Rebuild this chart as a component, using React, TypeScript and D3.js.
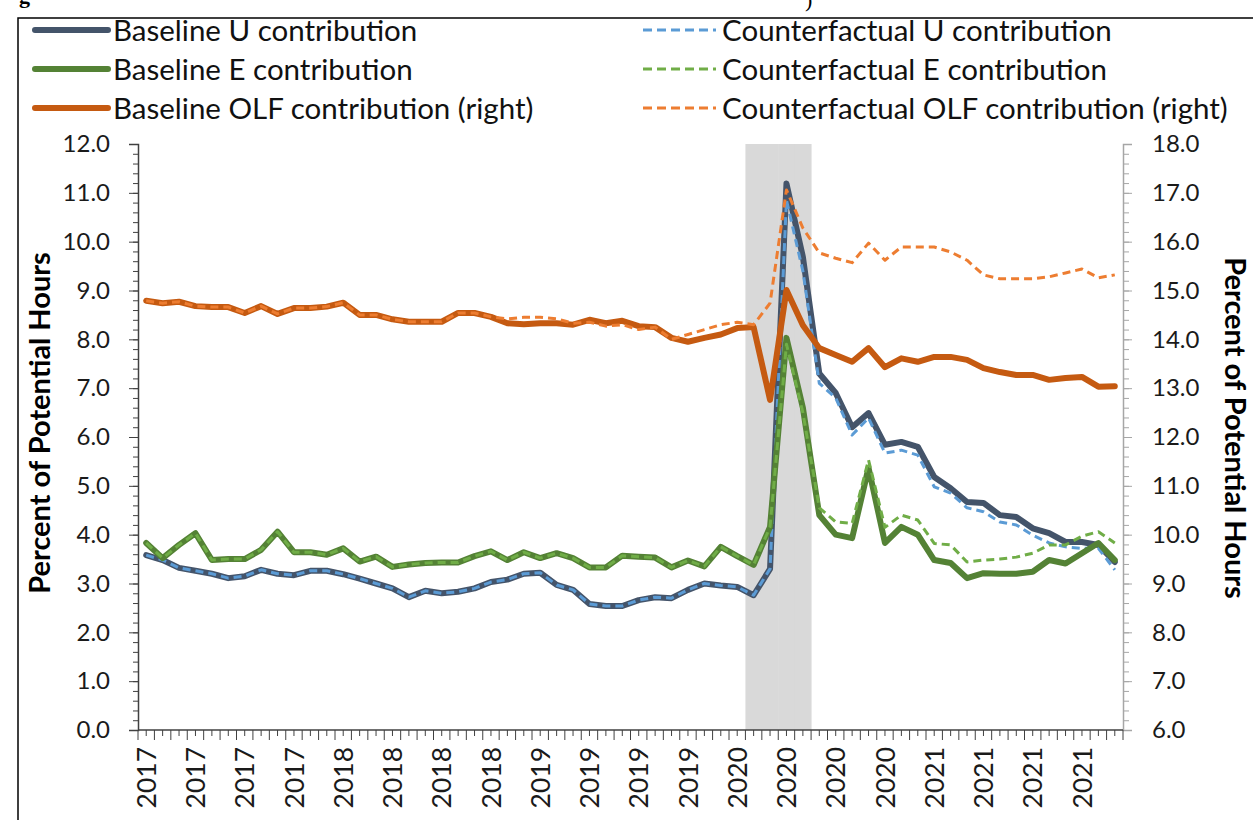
import { useEffect, useRef } from 'react';
import * as d3 from 'd3';

// monthly categories, Jan 2017 .. Dec 2021
const years = ["2017", "2018", "2019", "2020", "2021"];
const months = years.flatMap(y => ["01", "02", "03", "04", "05", "06", "07", "08", "09", "10", "11", "12"].map(m => `${y}-${m}`));

// 1 = shaded (recession) month
const recession = [
  0, 0, 0, 0, 0, 0, 0, 0, 0, 0, 0, 0,
  0, 0, 0, 0, 0, 0, 0, 0, 0, 0, 0, 0,
  0, 0, 0, 0, 0, 0, 0, 0, 0, 0, 0, 0,
  0, 1, 1, 1, 1, 0, 0, 0, 0, 0, 0, 0,
  0, 0, 0, 0, 0, 0, 0, 0, 0, 0, 0, 0,
];

const baselineU = [
  3.58, 3.48, 3.32, 3.26, 3.2, 3.11, 3.15, 3.28, 3.2, 3.17,
  3.26, 3.26, 3.19, 3.1, 3.0, 2.9, 2.72, 2.85, 2.8, 2.83,
  2.9, 3.03, 3.08, 3.2, 3.22, 2.97, 2.87, 2.58, 2.54, 2.54,
  2.66, 2.72, 2.7, 2.87, 3.0, 2.96, 2.93, 2.76, 3.3, 11.19,
  9.69, 7.3, 6.9, 6.2, 6.49, 5.84, 5.9, 5.8, 5.18, 4.95,
  4.67, 4.65, 4.4, 4.36, 4.13, 4.03, 3.85, 3.85, 3.79, 3.44,
];

const counterU = [
  3.58, 3.48, 3.32, 3.26, 3.2, 3.11, 3.15, 3.28, 3.2, 3.17,
  3.26, 3.26, 3.19, 3.1, 3.0, 2.9, 2.72, 2.85, 2.8, 2.83,
  2.9, 3.03, 3.08, 3.2, 3.22, 2.97, 2.87, 2.58, 2.54, 2.54,
  2.66, 2.72, 2.7, 2.87, 3.0, 2.96, 2.93, 2.76, 3.3, 10.85,
  9.4, 7.1, 6.8, 6.04, 6.39, 5.67, 5.73, 5.63, 4.98, 4.85,
  4.55, 4.47, 4.26, 4.2, 3.99, 3.83, 3.75, 3.72, 3.72, 3.28,
];

const baselineE = [
  3.83, 3.52, 3.79, 4.03, 3.48, 3.5, 3.5, 3.69, 4.06, 3.64,
  3.64, 3.59, 3.72, 3.45, 3.55, 3.34, 3.39, 3.42, 3.43, 3.43,
  3.56, 3.66, 3.48, 3.64, 3.52, 3.62, 3.52, 3.33, 3.33, 3.57,
  3.55, 3.53, 3.33, 3.47, 3.35, 3.75, 3.56, 3.38, 4.16, 8.03,
  6.6, 4.4, 4.0, 3.93, 5.37, 3.83, 4.16, 4.0, 3.48, 3.42,
  3.11, 3.21, 3.2, 3.2, 3.24, 3.48, 3.41, 3.62, 3.83, 3.48,
];

const counterE = [
  3.83, 3.52, 3.79, 4.03, 3.48, 3.5, 3.5, 3.69, 4.06, 3.64,
  3.64, 3.59, 3.72, 3.45, 3.55, 3.34, 3.39, 3.42, 3.43, 3.43,
  3.56, 3.66, 3.48, 3.64, 3.52, 3.62, 3.52, 3.33, 3.33, 3.57,
  3.55, 3.53, 3.33, 3.47, 3.35, 3.75, 3.56, 3.38, 4.16, 7.9,
  6.5, 4.55, 4.26, 4.23, 5.53, 4.15, 4.4, 4.3, 3.82, 3.79,
  3.44, 3.48, 3.5, 3.54, 3.62, 3.79, 3.79, 3.97, 4.06, 3.83,
];

// right axis
const baselineOLF = [
  14.79, 14.74, 14.77, 14.68, 14.66, 14.66, 14.54, 14.68, 14.52, 14.64,
  14.64, 14.67, 14.75, 14.5, 14.5, 14.41, 14.36, 14.36, 14.36, 14.54,
  14.54, 14.46, 14.33, 14.31, 14.33, 14.33, 14.3, 14.4, 14.33, 14.38,
  14.27, 14.25, 14.03, 13.95, 14.03, 14.1, 14.23, 14.25, 12.76, 15.01,
  14.29, 13.82, 13.68, 13.54, 13.82, 13.43, 13.61, 13.54, 13.64, 13.64,
  13.58, 13.41, 13.33, 13.27, 13.27, 13.17, 13.21, 13.23, 13.03, 13.04,
];

const counterOLF = [
  14.79, 14.74, 14.77, 14.68, 14.66, 14.66, 14.54, 14.68, 14.52, 14.64,
  14.64, 14.67, 14.75, 14.5, 14.5, 14.41, 14.36, 14.36, 14.36, 14.54,
  14.54, 14.46, 14.42, 14.45, 14.45, 14.42, 14.33, 14.35, 14.27, 14.3,
  14.2, 14.25, 14.0, 14.1, 14.2, 14.3, 14.35, 14.3, 14.74, 17.06,
  16.28, 15.77, 15.66, 15.57, 15.97, 15.62, 15.89, 15.89, 15.89, 15.79,
  15.62, 15.32, 15.24, 15.24, 15.24, 15.28, 15.36, 15.44, 15.26, 15.32,
];

const xTickLabels = [
  "2017", "2017", "2017", "2017", "2018", "2018", "2018", "2018", "2019", "2019",
  "2019", "2019", "2020", "2020", "2020", "2020", "2021", "2021", "2021", "2021",
];

interface Series {
  name: string;
  values: number[];
  color: string;
  width: number;
  dashed: boolean;
  right: boolean;
}

const series: Series[] = [
  { name: "Baseline U contribution", values: baselineU, color: "#44546A", width: 6, dashed: false, right: false },
  { name: "Counterfactual U contribution", values: counterU, color: "#5B9BD5", width: 3, dashed: true, right: false },
  { name: "Baseline E contribution", values: baselineE, color: "#548235", width: 6, dashed: false, right: false },
  { name: "Counterfactual E contribution", values: counterE, color: "#70AD47", width: 3, dashed: true, right: false },
  { name: "Baseline OLF contribution (right)", values: baselineOLF, color: "#C55A11", width: 6, dashed: false, right: true },
  { name: "Counterfactual OLF contribution (right)", values: counterOLF, color: "#ED7D31", width: 3, dashed: true, right: true },
];

const FONT = "Lato, 'Open Sans', sans-serif";

const App: React.FC = () => {
  const svgRef = useRef<SVGSVGElement>(null);

  const width = 1253;
  const height = 820;
  const plot = { left: 138, right: 1123, top: 144, bottom: 730 };

  useEffect(() => {
    if (!svgRef.current) return;
    const svg = d3.select(svgRef.current);
    svg.selectAll("*").remove();

    svg.append("rect").attr("width", width).attr("height", height).attr("fill", "#fff");

    // figure caption, cut off above the frame as in the source
    svg.append("text").attr("x", 19).attr("y", 3)
      .text("g").style("font-family", "'Liberation Serif', serif").style("font-weight", "bold").style("font-size", "22px");
    svg.append("text").attr("x", 805).attr("y", 7)
      .text(")").style("font-family", "'Liberation Serif', serif").style("font-size", "22px");

    // outer frame
    svg.append("path")
      .attr("d", `M18,${height} L18,18 L${width},18`)
      .attr("fill", "none").attr("stroke", "#000").attr("stroke-width", 1.5);

    const x = d3.scaleBand<number>()
      .domain(d3.range(months.length))
      .range([plot.left, plot.right]);
    const cx = (i: number) => (x(i) as number) + x.bandwidth() / 2;

    const yL = d3.scaleLinear().domain([0, 12]).range([plot.bottom, plot.top]);
    const yR = d3.scaleLinear().domain([6, 18]).range([plot.bottom, plot.top]);

    // recession shading
    svg.append("g").selectAll("rect")
      .data(recession.map((r, i) => ({ r, i })).filter(d => d.r === 1))
      .enter().append("rect")
      .attr("x", d => x(d.i) as number)
      .attr("width", x.bandwidth() + 0.5)
      .attr("y", yL(12))
      .attr("height", yL(0) - yL(12))
      .attr("fill", "#D9D9D9");

    // left axis
    const leftMinor = svg.append("g").attr("transform", `translate(${plot.left},0)`)
      .call(d3.axisLeft(yL).tickValues(d3.range(0, 12.001, 0.2)).tickSize(5).tickFormat(() => ""));
    leftMinor.select(".domain").remove();
    leftMinor.selectAll("line").attr("stroke", "#404040");

    const leftAxis = svg.append("g").attr("transform", `translate(${plot.left},0)`)
      .call(d3.axisLeft(yL).tickValues(d3.range(0, 13, 1)).tickSize(9).tickPadding(19).tickFormat(d3.format(".1f")));
    leftAxis.select(".domain").attr("stroke", "#404040").attr("stroke-width", 1.5);
    leftAxis.selectAll("line").attr("stroke", "#404040");
    leftAxis.selectAll("text").style("font-family", FONT).style("font-size", "24px").attr("fill", "#1a1a1a");

    // right axis
    const rightMinor = svg.append("g").attr("transform", `translate(${plot.right},0)`)
      .call(d3.axisRight(yR).tickValues(d3.range(6, 18.001, 0.2)).tickSize(6).tickFormat(() => ""));
    rightMinor.select(".domain").remove();
    rightMinor.selectAll("line").attr("stroke", "#A6A6A6");

    const rightAxis = svg.append("g").attr("transform", `translate(${plot.right},0)`)
      .call(d3.axisRight(yR).tickValues(d3.range(6, 19, 1)).tickSize(9).tickPadding(20).tickFormat(d3.format(".1f")));
    rightAxis.select(".domain").attr("stroke", "#A6A6A6").attr("stroke-width", 1.5);
    rightAxis.selectAll("line").attr("stroke", "#A6A6A6");
    rightAxis.selectAll("text").style("font-family", FONT).style("font-size", "24px").attr("fill", "#1a1a1a");

    // x axis: tall ticks on month boundaries, short ones mid-month
    const xg = svg.append("g");
    xg.append("line")
      .attr("x1", plot.left).attr("x2", plot.right)
      .attr("y1", yL(0)).attr("y2", yL(0))
      .attr("stroke", "#404040").attr("stroke-width", 1.5);
    xg.selectAll(".tickBound")
      .data(d3.range(months.length + 1))
      .enter().append("line")
      .attr("x1", i => plot.left + i * x.step()).attr("x2", i => plot.left + i * x.step())
      .attr("y1", yL(0)).attr("y2", yL(0) + 10)
      .attr("stroke", "#404040");
    xg.selectAll(".tickMid")
      .data(d3.range(months.length))
      .enter().append("line")
      .attr("x1", i => cx(i)).attr("x2", i => cx(i))
      .attr("y1", yL(0)).attr("y2", yL(0) + 6)
      .attr("stroke", "#404040");
    xg.selectAll(".xlabel")
      .data(xTickLabels)
      .enter().append("text")
      .attr("transform", (d, k) => `translate(${cx(k * 3)},${yL(0) + 17}) rotate(-90)`)
      .attr("dy", "0.36em")
      .text(d => d)
      .style("text-anchor", "end")
      .style("font-family", FONT)
      .style("font-size", "26.5px")
      .attr("fill", "#1a1a1a");

    // axis titles
    svg.append("text")
      .attr("transform", `translate(40,${(plot.top + plot.bottom) / 2 - 14}) rotate(-90)`)
      .attr("dy", "0.36em")
      .text("Percent of Potential Hours")
      .style("text-anchor", "middle")
      .style("font-family", FONT)
      .style("font-weight", "bold")
      .style("font-size", "29px");
    svg.append("text")
      .attr("transform", `translate(1235,${(plot.top + plot.bottom) / 2 - 9}) rotate(90)`)
      .attr("dy", "0.36em")
      .text("Percent of Potential Hours")
      .style("text-anchor", "middle")
      .style("font-family", FONT)
      .style("font-weight", "bold")
      .style("font-size", "29px");

    // series lines
    series.forEach(s => {
      const yScale = s.right ? yR : yL;
      const line = d3.line<number>()
        .x((d, i) => cx(i))
        .y(d => yScale(d));
      svg.append("path")
        .datum(s.values)
        .attr("d", line)
        .attr("fill", "none")
        .attr("stroke", s.color)
        .attr("stroke-width", s.width)
        .attr("stroke-linejoin", "round")
        .attr("stroke-linecap", s.dashed ? "butt" : "round")
        .attr("stroke-dasharray", s.dashed ? "8,5" : null);
    });

    // legend
    const legend = svg.append("g");
    series.forEach((s, k) => {
      const col = k % 2;
      const row = Math.floor(k / 2);
      const lx = col === 0 ? 35 : 643;
      const ly = 30 + row * 39;
      legend.append("line")
        .attr("x1", lx).attr("x2", lx + 73)
        .attr("y1", ly).attr("y2", ly)
        .attr("stroke", s.color)
        .attr("stroke-width", s.width)
        .attr("stroke-linecap", s.dashed ? "butt" : "round")
        .attr("stroke-dasharray", s.dashed ? "9,5" : null);
      legend.append("text")
        .attr("x", lx + (col === 0 ? 78 : 79))
        .attr("y", ly)
        .attr("dy", "0.36em")
        .text(s.name)
        .style("font-family", FONT)
        .style("font-size", "29.5px")
        .attr("fill", "#111");
    });
  }, []);

  return (
    <svg ref={svgRef} width={width} height={height}
      style={{ position: 'absolute', left: 0, top: 0, display: 'block' }}></svg>
  );
};

export default App;
